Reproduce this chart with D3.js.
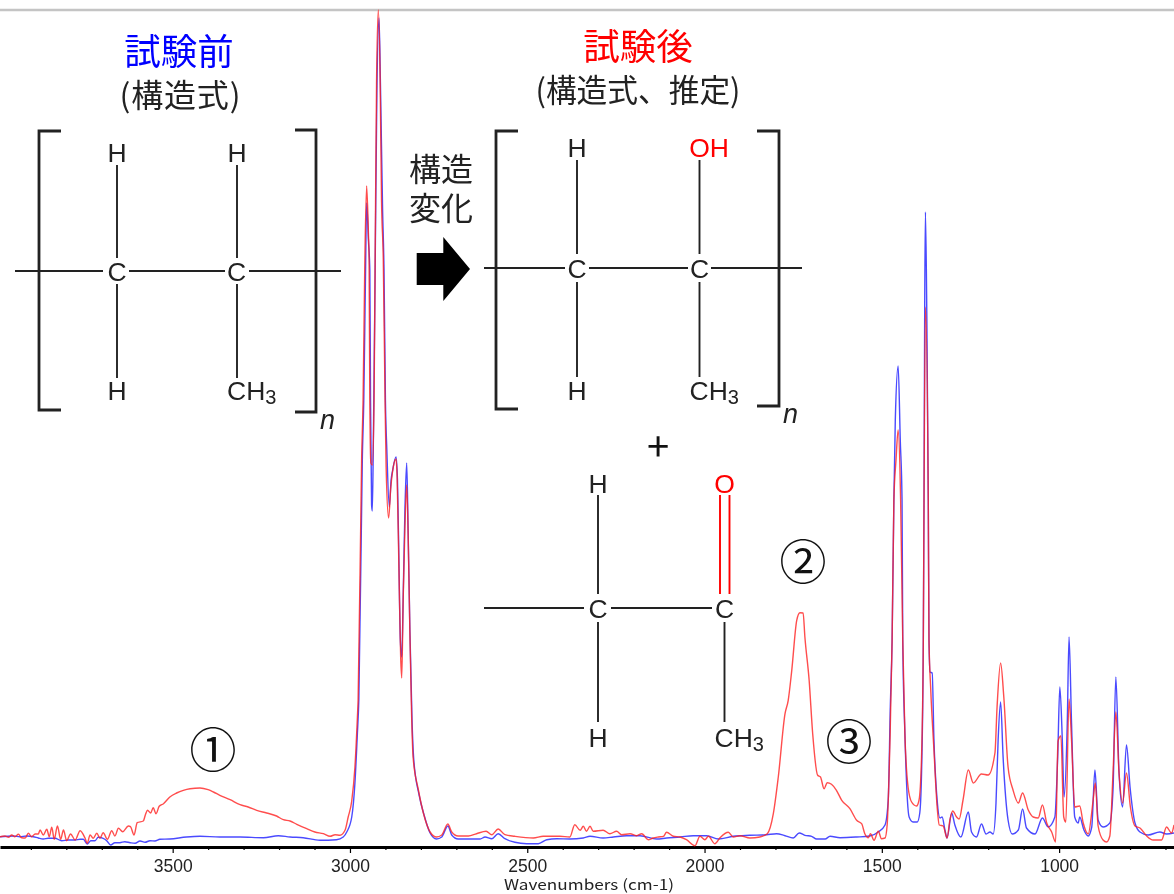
<!DOCTYPE html>
<html lang="ja">
<head>
    <meta charset="UTF-8">
    <title>FT-IR spectrum before and after test</title>
    <style>
        html, body { margin: 0; padding: 0; background: #fff; }
        svg { display: block; filter: blur(0.35px); }
        .axis path, .axis line { stroke: #000; }
        .axis line { stroke-width: 1.2; }
        .axis text { font-family: "Liberation Sans", sans-serif; font-size: 17.5px; fill: #222; }
        .cjk { font-family: "Noto Sans CJK JP", sans-serif; }
        .atom { font-family: "Liberation Sans", sans-serif; font-size: 26.5px; fill: #222; }
        .bond { stroke: #222; stroke-width: 1.9; fill: none; }
        .bracket { stroke: #222; stroke-width: 2.8; fill: none; }
    </style>
    <script src="https://d3js.org/d3.v7.min.js"></script>
</head>
<body>
    <script>
        // [wavenumber, absorbance], absorbance is arbitrary (no y axis in the picture)
        const beforeTrace = [
            [3987,.103],[3949,.11],[3931,.103],[3912,.11],[3893,.103],[3879,.09],[3865,.08],[3851,.087],[3832,.087],[3813,.063],
            [3794,.07],[3775,.07],[3761,.077],[3752,.077],[3741,.03],[3731,.063],[3719,.063],[3710,.097],[3696,.087],[3686,.063],
            [3675,.02],[3663,.043],[3649,.043],[3635,.053],[3620,.043],[3606,.037],[3592,.06],[3578,.047],[3564,.063],[3550,.06],
            [3536,.077],[3508,.08],[3461,.10],[3423,.107],[3367,.10],[3310,.10],[3244,.093],[3202,.113],[3169,.10],[3132,.093],
            [3085,.067],[3038,.073],[3019,.10],[3009,.15],[2995,.30],[2986,.64],[2979,1.14],[2975,1.47],[2965,3.91],[2961,4.47],
            [2956,5.77],[2953,6.44],[2948,6.07],[2944,5.77],[2942,4.47],[2939,3.42],[2937,3.36],[2934,4.07],[2929,5.77],[2924,7.57],
            [2918,8.29],[2914,7.62],[2908,6.37],[2904,5.77],[2900,4.47],[2896,3.97],[2889,3.40],[2884,3.67],[2880,3.76],[2870,3.90],
            [2866,3.67],[2862,2.87],[2858,2.07],[2854,1.90],[2849,2.67],[2845,3.37],[2840,3.84],[2836,3.17],[2831,2.17],[2825,1.27],
            [2820,.87],[2805,.52],[2791,.32],[2774,.14],[2756,.08],[2741,.10],[2724,.21],[2713,.12],[2695,.08],[2666,.08],
            [2633,.08],[2619,.10],[2600,.083],[2582,.133],[2563,.083],[2535,.047],[2502,.033],[2469,.033],[2445,.073],[2417,.083],
            [2380,.08],[2342,.09],[2323,.107],[2286,.09],[2257,.10],[2220,.113],[2182,.113],[2135,.08],[2107,.09],[2069,.10],
            [2032,.113],[1994,.113],[1961,.08],[1919,.107],[1872,.117],[1825,.123],[1797,.133],[1773,.113],[1750,.09],[1733,.14],
            [1717,.117],[1698,.107],[1684,.08],[1660,.08],[1646,.107],[1618,.093],[1571,.10],[1534,.11],[1510,.15],[1491,.22],
            [1482,.47],[1476,1.41],[1471,2.07],[1466,3.47],[1462,4.27],[1454,4.81],[1448,4.07],[1443,3.47],[1441,2.07],[1435,1.14],
            [1423,.30],[1412,.25],[1400,.25],[1393,.34],[1387,.90],[1383,2.07],[1381,3.47],[1379,5.47],[1377,6.35],[1373,5.27],
            [1369,3.47],[1367,2.07],[1364,1.75],[1358,1.74],[1353,1.07],[1344,.47],[1336,.29],[1330,.30],[1322,.17],[1316,.09],
            [1303,.34],[1294,.22],[1277,.10],[1256,.35],[1247,.15],[1233,.10],[1219,.23],[1206,.13],[1195,.15],[1186,.13],
            [1178,.44],[1172,1.07],[1165,1.45],[1158,.90],[1144,.27],[1132,.13],[1115,.17],[1103,.38],[1092,.19],[1068,.13],
            [1047,.29],[1031,.20],[1012,.30],[1004,.90],[998,1.60],[991,1.07],[986,.50],[977,1.24],[972,2.10],[965,1.24],
            [956,.30],[946,.24],[942,.30],[930,.17],[918,.11],[908,.20],[899,.77],[890,.27],[876,.20],[857,.24],
            [848,.57],[840,1.70],[831,.74],[821,.40],[810,1.02],[800,.60],[786,.24],[772,.15],[749,.12],[716,.15],[697,.13],[676,.14]
        ];

        const afterTrace = [
            [3987,.103],[3973,.11],[3963,.097],[3954,.12],[3945,.103],[3935,.127],[3926,.093],[3916,.09],[3907,.137],[3898,.103],
            [3888,.13],[3879,.13],[3874,.17],[3865,.12],[3855,.177],[3848,.103],[3841,.197],[3834,.077],[3825,.21],[3816,.077],
            [3808,.17],[3799,.063],[3788,.13],[3775,.07],[3761,.163],[3747,.087],[3741,.037],[3733,.12],[3724,.087],[3714,.137],
            [3705,.087],[3696,.143],[3684,.077],[3672,.163],[3663,.11],[3653,.187],[3641,.153],[3625,.21],[3619,.203],[3609,.12],
            [3600,.243],[3583,.26],[3576,.333],[3571,.367],[3562,.34],[3555,.393],[3547,.333],[3538,.407],[3526,.433],[3508,.50],
            [3489,.54],[3470,.567],[3451,.583],[3423,.59],[3400,.573],[3385,.55],[3367,.517],[3338,.473],[3310,.423],[3287,.40],
            [3263,.367],[3235,.34],[3207,.31],[3188,.273],[3169,.26],[3150,.227],[3122,.183],[3099,.15],[3075,.133],[3056,.107],
            [3042,.123],[3028,.117],[3014,.167],[3005,.30],[2995,.46],[2986,.80],[2979,1.30],[2977,1.47],[2967,3.90],[2963,4.47],
            [2958,5.87],[2953,6.61],[2948,6.14],[2946,5.87],[2944,4.47],[2941,3.84],[2937,3.82],[2932,4.47],[2929,5.87],[2925,7.64],
            [2920,8.37],[2915,7.70],[2911,6.47],[2906,5.87],[2901,4.47],[2898,3.80],[2891,3.29],[2885,3.59],[2880,3.75],[2870,3.88],
            [2867,3.70],[2862,2.80],[2857,1.90],[2854,1.69],[2850,2.47],[2845,3.20],[2840,3.62],[2836,3.14],[2831,2.14],[2826,1.30],
            [2822,.90],[2807,.57],[2793,.34],[2774,.15],[2756,.10],[2741,.12],[2724,.23],[2713,.15],[2695,.11],[2666,.11],
            [2643,.133],[2616,.157],[2600,.123],[2582,.18],[2563,.123],[2535,.107],[2483,.09],[2455,.107],[2408,.107],[2380,.10],
            [2366,.223],[2351,.167],[2342,.207],[2333,.157],[2323,.207],[2314,.157],[2286,.167],[2267,.133],[2248,.157],[2234,.123],
            [2210,.133],[2192,.113],[2177,.133],[2159,.073],[2145,.09],[2130,.10],[2116,.107],[2107,.147],[2088,.107],[2069,.10],
            [2051,.073],[2027,.013],[2013,.107],[1999,.073],[1989,.107],[1971,.033],[1957,.09],[1933,.147],[1919,.10],[1900,.113],
            [1872,.09],[1844,.10],[1823,.133],[1806,.333],[1792,.70],[1773,1.333],[1764,1.467],[1754,1.767],[1740,2.267],[1731,2.343],
            [1722,2.34],[1717,2.10],[1705,1.667],[1695,1.133],[1681,.717],[1673,.70],[1663,.583],[1654,.643],[1642,.627],[1628,.567],
            [1613,.467],[1590,.383],[1571,.267],[1557,.233],[1548,.133],[1538,.093],[1532,.133],[1522,.067],[1510,.157],[1501,.083],
            [1491,.09],[1485,.22],[1477,1.07],[1471,2.07],[1466,3.47],[1460,3.87],[1454,4.17],[1447,3.47],[1441,2.07],[1435,1.14],
            [1426,.60],[1416,.45],[1402,.41],[1395,.47],[1388,.90],[1383,2.07],[1381,3.47],[1377,5.40],[1369,3.47],[1367,2.07],
            [1362,1.57],[1353,.97],[1344,.40],[1338,.22],[1327,.21],[1316,.09],[1308,.27],[1300,.36],[1289,.30],[1282,.28],
            [1271,.47],[1256,.77],[1242,.64],[1219,.73],[1200,.72],[1181,.94],[1175,1.40],[1165,1.84],[1156,1.50],[1144,.80],
            [1130,.57],[1115,.44],[1103,.54],[1087,.37],[1073,.30],[1059,.29],[1047,.42],[1035,.24],[1021,.15],[1010,.05],
            [1003,1.06],[995,1.11],[987,.30],[981,.25],[972,1.48],[965,1.07],[956,.40],[942,.41],[932,.24],[918,.13],
            [904,.47],[898,.64],[890,.21],[876,.07],[866,.05],[857,.11],[848,.74],[840,1.35],[831,.74],[821,.44],
            [810,.74],[799,.40],[786,.21],[772,.19],[753,.11],[735,.07],[711,.07],[697,.20],[683,.14],[676,.22]
        ];

        const majorTicks = [3500, 3000, 2500, 2000, 1500, 1000];
        const minorTicks = [3900, 3800, 3700, 3600, 3400, 3300, 3200, 3100, 2900, 2800, 2700, 2600, 2400, 2300, 2200, 2100,
                            1900, 1800, 1700, 1600, 1400, 1300, 1200, 1100, 900, 800, 700];
        const xTitle = "Wavenumbers (cm-1)";

        const width = 1174, height = 894;
        const svg = d3.select("body").append("svg").attr("width", width).attr("height", height);

        const x = d3.scaleLinear().domain([3987, 676]).range([0, width]);
        const y = d3.scaleLinear().domain([0, 8.37]).range([847, 10]);

        // grey frame line at the top
        svg.append("line").attr("x1", 0).attr("x2", width).attr("y1", 10).attr("y2", 10)
            .attr("stroke", "#c4c4c4").attr("stroke-width", 2.5);

        // axis
        svg.append("g").attr("class", "axis").attr("transform", "translate(0,847)")
            .call(d3.axisBottom(x).tickValues(minorTicks).tickSize(3).tickFormat(""))
            .call(g => g.select(".domain").remove());
        const axis = svg.append("g").attr("class", "axis").attr("transform", "translate(0,847)")
            .call(d3.axisBottom(x).tickValues(majorTicks).tickSize(6).tickSizeOuter(0).tickPadding(7).tickFormat(d3.format("d")));
        axis.select(".domain").attr("stroke-width", 3);

        svg.append("text").attr("class", "cjk").attr("x", 589).attr("y", 890)
            .attr("text-anchor", "middle").attr("font-size", 14.5).attr("fill", "#222")
            .attr("textLength", 170).attr("lengthAdjust", "spacingAndGlyphs").text(xTitle);

        // spectra
        const line = d3.line().x(d => x(d[0])).y(d => y(d[1])).curve(d3.curveMonotoneX);
        svg.append("path").datum(beforeTrace).attr("d", line).attr("fill", "none")
            .attr("stroke", "#2a2aff").attr("stroke-width", 1.4).attr("stroke-opacity", 0.85);
        svg.append("path").datum(afterTrace).attr("d", line).attr("fill", "none")
            .attr("stroke", "#ff2020").attr("stroke-width", 1.4).attr("stroke-opacity", 0.8);

        // headings
        function label(txt, px, py, size, color) {
            return svg.append("text").attr("class", "cjk").attr("x", px).attr("y", py)
                .attr("text-anchor", "middle").attr("font-size", size).attr("fill", color).text(txt);
        }
        label("試験前", 179, 65, 36.5, "#0000ff");
        label("(構造式)", 180, 107, 32, "#222").attr("textLength", 121).attr("lengthAdjust", "spacing");
        label("試験後", 638, 60, 36.5, "#ff0000");
        label("(構造式、推定)", 638, 102, 32, "#222").attr("textLength", 205).attr("lengthAdjust", "spacingAndGlyphs");
        label("構造", 441, 181, 32, "#222");
        label("変化", 441, 220, 32, "#222");
        label("①", 213, 767, 47, "#111");
        label("②", 803, 579, 47, "#111");
        label("③", 849, 759, 47, "#111");

        // block arrow
        svg.append("polygon")
            .attr("points", "416.7,253 443.3,253 443.3,237 470,269 443.3,301 443.3,285 416.7,285")
            .attr("fill", "#000");

        function bond(x1, y1, x2, y2, color) {
            svg.append("line").attr("class", "bond").attr("x1", x1).attr("y1", y1).attr("x2", x2).attr("y2", y2)
                .style("stroke", color || null);
        }
        function atom(txt, px, py, color) {
            svg.append("text").attr("class", "atom").attr("x", px).attr("y", py + 9.5)
                .attr("text-anchor", "middle").style("fill", color || null).text(txt);
        }
        function methyl(px, py) {
            const t = svg.append("text").attr("class", "atom").attr("x", px).attr("y", py + 9.5);
            t.append("tspan").text("CH");
            t.append("tspan").attr("font-size", 20).attr("dy", 4).text("3");
        }
        function bracket(bx, y1, y2, tip) {
            svg.append("path").attr("class", "bracket")
                .attr("d", `M${tip},${y1}H${bx}V${y2}H${tip}`);
        }
        function subscriptN(px, py) {
            svg.append("text").attr("x", px).attr("y", py).attr("font-family", "Liberation Sans, sans-serif")
                .attr("font-style", "italic").attr("font-size", 27).attr("fill", "#222").text("n");
        }

        // structure before the test
        bracket(39, 131, 410, 61);
        bracket(316, 130, 412, 295);
        subscriptN(320, 429);
        bond(15, 271, 103, 271); bond(129, 271, 225, 271); bond(249, 271, 341, 271);
        bond(117, 165, 117, 258); bond(117, 284, 117, 378);
        bond(237, 165, 237, 258); bond(237, 284, 237, 378);
        atom("H", 117, 152); atom("H", 237, 152); atom("C", 117, 271); atom("C", 236.5, 271); atom("H", 117, 390);
        methyl(227, 390);

        // structure after the test
        bracket(496, 131, 409, 518);
        bracket(779, 131, 406, 757);
        subscriptN(783, 423);
        bond(484, 268, 565, 268); bond(589, 268, 688, 268); bond(711, 268, 802, 268);
        bond(577, 160, 577, 254); bond(577, 282, 577, 377);
        bond(699.5, 160, 699.5, 254); bond(699.5, 282, 699.5, 377);
        atom("H", 577, 147); atom("OH", 709, 147, "#ff0000"); atom("C", 577, 268); atom("C", 699.5, 268); atom("H", 577, 390);
        methyl(689.5, 390);

        label("+", 658, 461, 40, "#111");

        // carbonyl fragment
        bond(484, 608, 584, 608); bond(611, 608, 712, 608);
        bond(598, 495, 598, 594); bond(598, 622, 598, 722);
        bond(720, 495, 720, 594, "#ff0000"); bond(729.5, 495, 729.5, 594, "#ff0000");
        bond(724.5, 622, 724.5, 722);
        atom("H", 598, 483); atom("O", 724.5, 483, "#ff0000"); atom("C", 598, 608); atom("C", 724.5, 608); atom("H", 598, 737);
        methyl(714.5, 737);
    </script>
</body>
</html>
